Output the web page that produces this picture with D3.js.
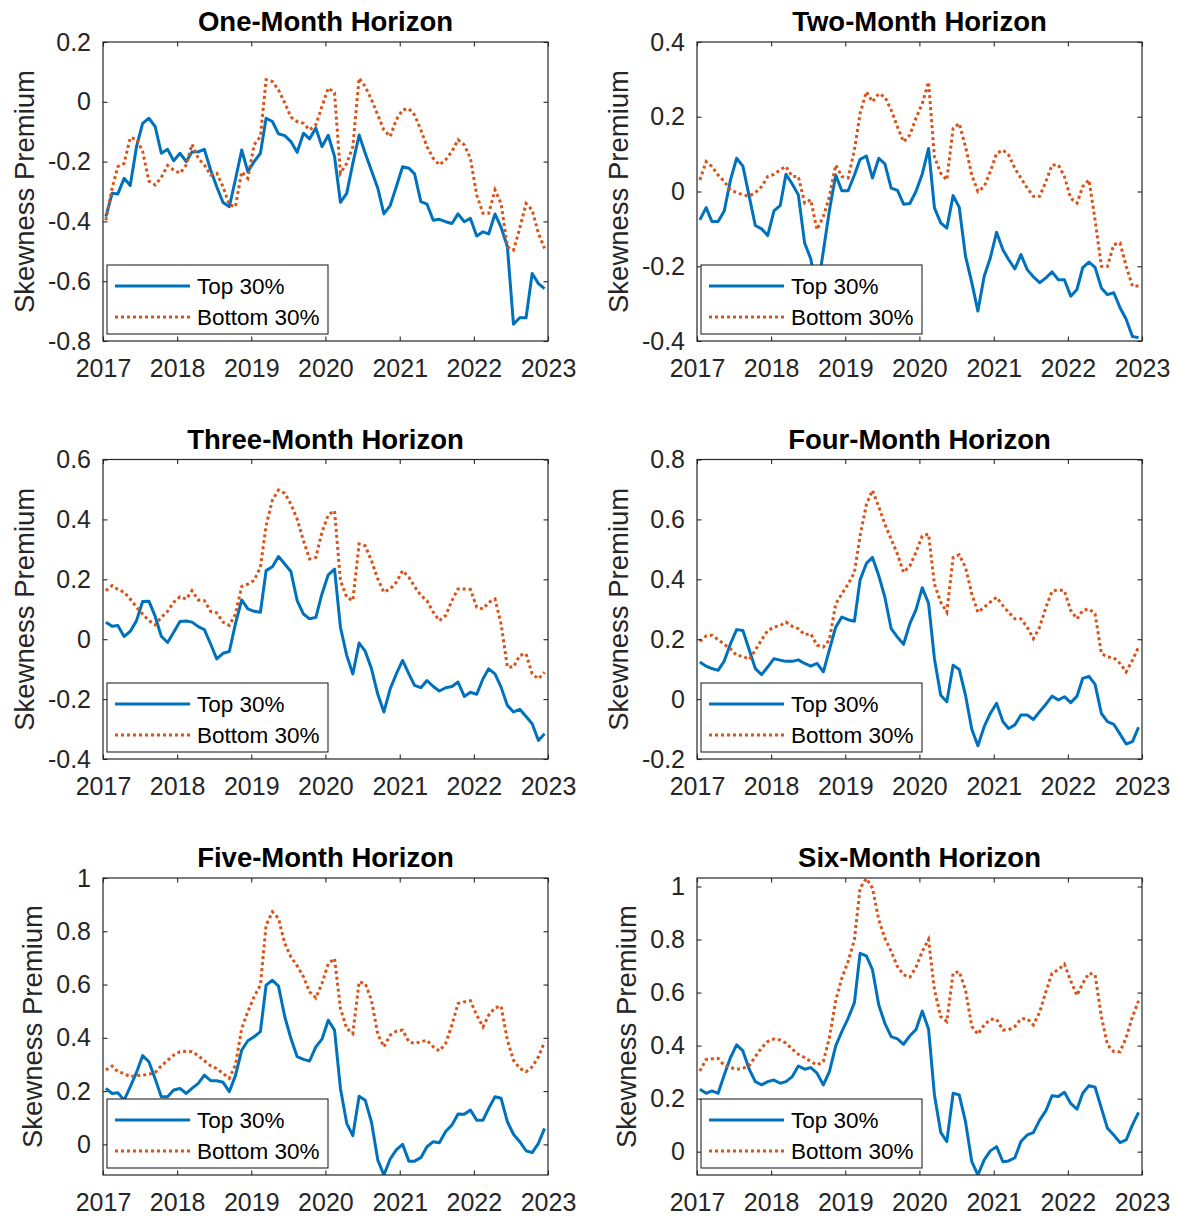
<!DOCTYPE html>
<html>
<head>
<meta charset="utf-8">
<script src="https://cdn.jsdelivr.net/npm/d3@7"></script>
<style>
  body { margin: 0; background: #fff; }
  svg { display: block; }
  text { font-family: "Liberation Sans", Arial, Helvetica, sans-serif; }
</style>
</head>
<body>
<svg id="chart" width="1177" height="1216"></svg>
<script>
// Panel titles and y-axis settings
const titles = ["One-Month Horizon", "Two-Month Horizon", "Three-Month Horizon",
                "Four-Month Horizon", "Five-Month Horizon", "Six-Month Horizon"];
const yDomains = [[-0.8, 0.2], [-0.4, 0.4], [-0.4, 0.6], [-0.2, 0.8], [-0.115, 1.0], [-0.088, 1.032]];
const yTicks = [
  [-0.8, -0.6, -0.4, -0.2, 0, 0.2],
  [-0.4, -0.2, 0, 0.2, 0.4],
  [-0.4, -0.2, 0, 0.2, 0.4, 0.6],
  [-0.2, 0, 0.2, 0.4, 0.6, 0.8],
  [0, 0.2, 0.4, 0.6, 0.8, 1],
  [0, 0.2, 0.4, 0.6, 0.8, 1]
];
const yearTicks = [2017, 2018, 2019, 2020, 2021, 2022, 2023];
const seriesNames = ["Top 30%", "Bottom 30%"];
const yLabel = "Skewness Premium";

// Monthly skewness premium, Jan 2017 – Dec 2022
const top1 = [-0.384,-0.306,-0.308,-0.256,-0.28,-0.15,-0.072,-0.055,-0.083,-0.172,-0.159,-0.197,
  -0.172,-0.2,-0.168,-0.167,-0.159,-0.228,-0.284,-0.337,-0.351,-0.26,-0.161,-0.234,
  -0.2,-0.172,-0.055,-0.066,-0.107,-0.113,-0.133,-0.169,-0.105,-0.124,-0.088,-0.15,
  -0.112,-0.183,-0.336,-0.306,-0.206,-0.111,-0.172,-0.231,-0.289,-0.375,-0.347,-0.284,
  -0.217,-0.222,-0.241,-0.334,-0.342,-0.396,-0.393,-0.401,-0.407,-0.375,-0.401,-0.39,
  -0.449,-0.435,-0.442,-0.375,-0.42,-0.485,-0.744,-0.722,-0.722,-0.574,-0.608,-0.625];
const bottom1 = [-0.396,-0.289,-0.217,-0.206,-0.12,-0.125,-0.165,-0.265,-0.278,-0.253,-0.213,-0.228,
  -0.239,-0.211,-0.142,-0.189,-0.211,-0.245,-0.239,-0.284,-0.345,-0.351,-0.234,-0.256,
  -0.144,-0.116,0.074,0.068,0.04,-0.004,-0.051,-0.066,-0.072,-0.094,-0.077,-0.016,
  0.046,0.03,-0.239,-0.206,-0.15,0.079,0.051,0.007,-0.044,-0.094,-0.116,-0.06,
  -0.027,-0.023,-0.044,-0.094,-0.15,-0.189,-0.211,-0.194,-0.166,-0.127,-0.144,-0.189,
  -0.312,-0.373,-0.373,-0.295,-0.34,-0.485,-0.496,-0.423,-0.34,-0.362,-0.44,-0.49];

const top2 = [-0.076,-0.043,-0.08,-0.08,-0.052,0.031,0.089,0.068,-0.013,-0.091,-0.1,-0.118,
  -0.052,-0.037,0.046,0.02,-0.009,-0.138,-0.18,-0.27,-0.16,-0.05,0.044,0.002,
  0.002,0.044,0.086,0.095,0.036,0.089,0.074,0.009,0.003,-0.034,-0.032,0,
  0.047,0.115,-0.044,-0.084,-0.098,-0.011,-0.042,-0.173,-0.244,-0.32,-0.227,-0.178,
  -0.109,-0.156,-0.182,-0.207,-0.169,-0.209,-0.228,-0.244,-0.231,-0.215,-0.236,-0.236,
  -0.28,-0.262,-0.204,-0.189,-0.203,-0.258,-0.276,-0.271,-0.311,-0.342,-0.388,-0.391];
const bottom2 = [0.031,0.08,0.067,0.044,0.027,0.004,-0.003,-0.009,-0.012,-0.003,0.013,0.04,
  0.046,0.058,0.067,0.04,0.04,-0.031,-0.022,-0.102,-0.067,-0.013,0.071,0.04,
  0.036,0.111,0.209,0.267,0.24,0.262,0.253,0.218,0.173,0.133,0.151,0.196,
  0.235,0.293,0.093,0.049,0.031,0.169,0.182,0.12,0.044,0,0.013,0.053,
  0.102,0.111,0.098,0.062,0.036,0.009,-0.013,-0.013,0.027,0.071,0.071,0.04,
  -0.018,-0.031,0.013,0.031,-0.076,-0.2,-0.2,-0.142,-0.138,-0.2,-0.253,-0.253];

const top3 = [0.057,0.043,0.046,0.009,0.026,0.062,0.126,0.127,0.076,0.01,-0.011,0.023,
  0.059,0.061,0.057,0.042,0.032,-0.016,-0.066,-0.047,-0.041,0.051,0.131,0.101,
  0.093,0.09,0.229,0.242,0.276,0.251,0.226,0.129,0.084,0.068,0.073,0.151,
  0.215,0.234,0.04,-0.054,-0.116,-0.013,-0.04,-0.099,-0.184,-0.243,-0.166,-0.116,
  -0.071,-0.116,-0.154,-0.162,-0.138,-0.158,-0.173,-0.162,-0.158,-0.143,-0.191,-0.177,
  -0.184,-0.132,-0.099,-0.116,-0.16,-0.221,-0.243,-0.234,-0.258,-0.282,-0.338,-0.316];
const bottom3 = [0.162,0.179,0.166,0.157,0.134,0.107,0.084,0.062,0.048,0.073,0.093,0.123,
  0.142,0.134,0.162,0.131,0.129,0.093,0.088,0.057,0.046,0.084,0.176,0.184,
  0.196,0.24,0.379,0.464,0.498,0.487,0.451,0.401,0.329,0.268,0.273,0.357,
  0.415,0.429,0.196,0.14,0.129,0.318,0.312,0.262,0.201,0.157,0.168,0.19,
  0.229,0.207,0.176,0.146,0.129,0.09,0.062,0.079,0.129,0.168,0.168,0.166,
  0.107,0.101,0.123,0.134,0.051,-0.093,-0.093,-0.054,-0.049,-0.116,-0.132,-0.11];

const top4 = [0.124,0.11,0.102,0.096,0.127,0.185,0.232,0.229,0.165,0.102,0.082,0.107,
  0.135,0.13,0.126,0.126,0.131,0.119,0.11,0.119,0.091,0.165,0.24,0.274,
  0.265,0.26,0.398,0.453,0.473,0.412,0.34,0.235,0.207,0.183,0.252,0.298,
  0.372,0.32,0.135,0.013,-0.009,0.113,0.099,0.013,-0.101,-0.156,-0.092,-0.048,
  -0.014,-0.075,-0.098,-0.086,-0.053,-0.053,-0.068,-0.042,-0.017,0.01,-0.003,0.008,
  -0.012,0.01,0.069,0.076,0.049,-0.048,-0.075,-0.084,-0.117,-0.15,-0.142,-0.094];
const bottom4 = [0.193,0.211,0.213,0.199,0.183,0.168,0.146,0.143,0.132,0.163,0.198,0.229,
  0.24,0.246,0.257,0.243,0.235,0.215,0.218,0.18,0.174,0.198,0.318,0.351,
  0.384,0.423,0.545,0.65,0.697,0.642,0.584,0.534,0.484,0.423,0.445,0.49,
  0.545,0.551,0.384,0.324,0.29,0.473,0.482,0.44,0.351,0.29,0.307,0.324,
  0.34,0.312,0.29,0.268,0.268,0.24,0.202,0.24,0.307,0.36,0.365,0.362,
  0.296,0.268,0.296,0.301,0.285,0.152,0.141,0.138,0.119,0.091,0.13,0.174];

const top5 = [0.21,0.191,0.194,0.166,0.216,0.27,0.333,0.31,0.245,0.179,0.179,0.204,
  0.21,0.191,0.21,0.229,0.26,0.239,0.239,0.233,0.198,0.258,0.354,0.389,
  0.404,0.423,0.598,0.616,0.594,0.479,0.398,0.329,0.319,0.313,0.366,0.395,
  0.466,0.429,0.21,0.079,0.033,0.181,0.166,0.083,-0.059,-0.115,-0.055,-0.021,
  0,-0.063,-0.063,-0.05,-0.009,0.01,0.006,0.048,0.073,0.114,0.113,0.129,
  0.091,0.091,0.135,0.179,0.173,0.085,0.038,0.01,-0.024,-0.031,0.004,0.06];
const bottom5 = [0.279,0.294,0.273,0.266,0.254,0.258,0.26,0.263,0.27,0.295,0.316,0.335,
  0.348,0.35,0.348,0.333,0.314,0.295,0.285,0.266,0.248,0.298,0.435,0.498,
  0.554,0.598,0.823,0.873,0.848,0.754,0.704,0.67,0.629,0.573,0.55,0.604,
  0.678,0.698,0.51,0.435,0.416,0.61,0.604,0.541,0.413,0.366,0.41,0.425,
  0.429,0.385,0.379,0.385,0.391,0.366,0.351,0.379,0.448,0.529,0.535,0.539,
  0.485,0.441,0.485,0.513,0.519,0.391,0.316,0.285,0.273,0.291,0.329,0.385];

const top6 = [0.235,0.22,0.229,0.22,0.289,0.355,0.403,0.38,0.311,0.264,0.252,0.264,
  0.27,0.258,0.264,0.283,0.323,0.311,0.317,0.296,0.252,0.302,0.399,0.453,
  0.503,0.562,0.748,0.738,0.686,0.553,0.484,0.434,0.425,0.405,0.437,0.46,
  0.53,0.463,0.214,0.073,0.038,0.22,0.214,0.113,-0.038,-0.088,-0.031,0.003,
  0.019,-0.038,-0.035,-0.023,0.038,0.063,0.072,0.119,0.155,0.211,0.208,0.224,
  0.182,0.16,0.22,0.249,0.243,0.164,0.088,0.063,0.034,0.044,0.101,0.148];
const bottom6 = [0.304,0.348,0.35,0.352,0.325,0.317,0.311,0.314,0.325,0.358,0.392,0.415,
  0.425,0.421,0.409,0.387,0.367,0.355,0.34,0.327,0.34,0.43,0.57,0.654,
  0.717,0.799,0.994,1.03,0.994,0.874,0.805,0.755,0.698,0.667,0.658,0.695,
  0.755,0.8,0.61,0.509,0.491,0.673,0.679,0.61,0.472,0.443,0.478,0.499,
  0.499,0.459,0.459,0.472,0.501,0.501,0.478,0.526,0.604,0.673,0.686,0.707,
  0.644,0.589,0.635,0.673,0.667,0.509,0.403,0.377,0.377,0.43,0.509,0.569];

const topSeries = [top1, top2, top3, top4, top5, top6];
const bottomSeries = [bottom1, bottom2, bottom3, bottom4, bottom5, bottom6];

// Observation dates: middle of each month
const dates = top1.map((_, i) => new Date(2017, i, 15));

// Layout of the 3x2 grid
const colX = [[103, 548], [697, 1142]];
const rowY = [[42, 341], [459.5, 759], [878, 1175]];
const BLUE = "#0072BD", ORANGE = "#D95319", AX = "#262626";
const TICK = 4.5;
const BLUE_W = 3, ORANGE_W = 3, DOTS = "3,3";

const svg = d3.select("#chart");
svg.append("rect").attr("width", 1177).attr("height", 1216).attr("fill", "#fff");

const fmt = v => String(+v.toFixed(2));

titles.forEach((title, p) => {
  const [x0, x1] = colX[p % 2];
  const [y0, y1] = rowY[Math.floor(p / 2)];
  const x = d3.scaleTime().domain([new Date(2017, 0, 1), new Date(2023, 0, 1)]).range([x0, x1]);
  const y = d3.scaleLinear().domain(yDomains[p]).range([y1, y0]);
  const g = svg.append("g");

  const clipId = "clip" + p;
  g.append("clipPath").attr("id", clipId)
    .append("rect").attr("x", x0).attr("y", y0).attr("width", x1 - x0).attr("height", y1 - y0);

  const line = d3.line().x((d, i) => x(dates[i])).y(d => y(d));
  const plot = g.append("g").attr("clip-path", `url(#${clipId})`);
  plot.append("path").datum(topSeries[p])
    .attr("d", line).attr("fill", "none").attr("stroke", BLUE)
    .attr("stroke-width", BLUE_W).attr("stroke-linejoin", "round");
  plot.append("path").datum(bottomSeries[p])
    .attr("d", line).attr("fill", "none").attr("stroke", ORANGE)
    .attr("stroke-width", ORANGE_W).attr("stroke-dasharray", DOTS);

  const xTickDates = yearTicks.map(yr => new Date(yr, 0, 1));

  // bottom axis with labels, inward ticks
  const xb = g.append("g").attr("transform", `translate(0,${y1})`)
    .call(d3.axisBottom(x).tickValues(xTickDates).tickFormat(d3.timeFormat("%Y"))
      .tickSizeInner(-TICK).tickSizeOuter(0).tickPadding(18.5));
  // top mirrored ticks
  const xt = g.append("g").attr("transform", `translate(0,${y0})`)
    .call(d3.axisTop(x).tickValues(xTickDates).tickFormat("").tickSizeInner(-TICK).tickSizeOuter(0));
  // left axis with labels
  const yl = g.append("g").attr("transform", `translate(${x0},0)`)
    .call(d3.axisLeft(y).tickValues(yTicks[p]).tickFormat(fmt)
      .tickSizeInner(-TICK).tickSizeOuter(0).tickPadding(12));
  // right mirrored ticks
  const yr = g.append("g").attr("transform", `translate(${x1},0)`)
    .call(d3.axisRight(y).tickValues(yTicks[p]).tickFormat("").tickSizeInner(-TICK).tickSizeOuter(0));

  [xb, xt, yl, yr].forEach(a => {
    a.select(".domain").remove();
    a.selectAll("line").attr("stroke", AX).attr("stroke-width", 1.1);
    a.selectAll("text").attr("fill", AX).attr("font-size", 25)
      .attr("font-family", '"Liberation Sans", Arial, Helvetica, sans-serif');
  });

  // axes box
  g.append("rect").attr("x", x0).attr("y", y0).attr("width", x1 - x0).attr("height", y1 - y0)
    .attr("fill", "none").attr("stroke", AX).attr("stroke-width", 1.2);

  // y label placed left of the widest tick label
  let minX = Infinity;
  yl.selectAll("text").each(function () { minX = Math.min(minX, this.getBBox().x); });
  const cx = x0 + minX - 24, cy = (y0 + y1) / 2;
  g.append("text").attr("transform", `translate(${cx},${cy}) rotate(-90)`)
    .attr("text-anchor", "middle").attr("y", 10)
    .attr("font-size", 27.5).attr("fill", AX).text(yLabel);

  // title
  g.append("text").attr("x", (x0 + x1) / 2).attr("y", y0 - 11)
    .attr("text-anchor", "middle").attr("font-size", 27.5).attr("font-weight", "bold")
    .attr("fill", "#000").text(title);

  // legend
  const lx = x0 + 4, lw = 221, lh = 69, ly = y1 - 7 - lh;
  const leg = g.append("g");
  leg.append("rect").attr("x", lx).attr("y", ly).attr("width", lw).attr("height", lh)
    .attr("fill", "#fff").attr("stroke", AX).attr("stroke-width", 1.1);
  const rows = [
    { name: seriesNames[0], color: BLUE, dash: null, w: BLUE_W, dy: 21 },
    { name: seriesNames[1], color: ORANGE, dash: DOTS, w: ORANGE_W, dy: 52 }
  ];
  rows.forEach(r => {
    leg.append("line").attr("x1", lx + 8).attr("x2", lx + 83)
      .attr("y1", ly + r.dy).attr("y2", ly + r.dy)
      .attr("stroke", r.color).attr("stroke-width", r.w)
      .attr("stroke-dasharray", r.dash);
    leg.append("text").attr("x", lx + 90).attr("y", ly + r.dy + 8)
      .attr("font-size", 22.5).attr("fill", "#000").text(r.name);
  });
});
</script>
</body>
</html>
